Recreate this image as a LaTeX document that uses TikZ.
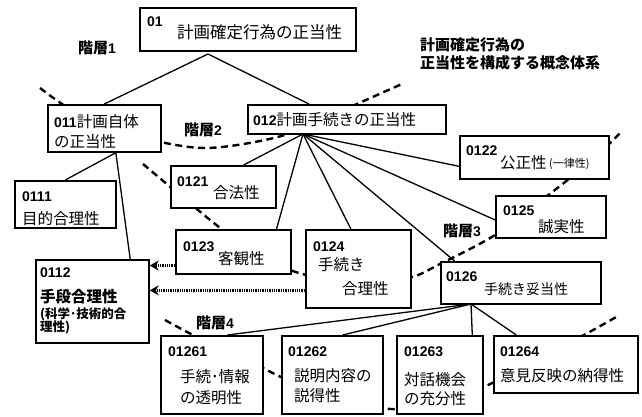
\documentclass[tikz,border=0pt]{standalone}
\usepackage{fontspec}
\setmainfont{Liberation Sans}
\newfontfamily\jp{Noto Sans CJK JP}
\usetikzlibrary{arrows.meta,calc}
\pgfdeclarelayer{bg}
\pgfsetlayers{bg,main}
\newcommand\bnum[1]{{\rmfamily\bfseries\fontsize{14}{16}\selectfont #1}}
\begin{document}
\begin{tikzpicture}[x=1pt,y=-1pt,
  box/.style={draw, line width=1.7pt, fill=white, inner sep=0pt, anchor=north west},
  txt/.style={anchor=west, inner sep=0pt, font=\jp\fontsize{15.5}{18}\selectfont},
  small/.style={anchor=west, inner sep=0pt, font=\jp\bfseries\fontsize{12.5}{14}\selectfont},
  lbl/.style={anchor=center, inner sep=0pt, font=\jp\bfseries\fontsize{15}{18}\selectfont},
  conn/.style={line width=1.3pt},
  hier/.style={line width=2.4pt, dash pattern=on 7pt off 4.5pt},
  dotarrow/.style={line width=2.4pt, dash pattern=on 1.3pt off 1pt, -{Stealth[length=9pt,width=10pt]}}]
\useasboundingbox (0,0) rectangle (642,417);

% boxes
\node[box, minimum width=216pt, minimum height=43pt] (b01) at (139,7) {};
\node[box, minimum width=113pt, minimum height=47pt] (b011) at (47,104) {};
\node[box, minimum width=198pt, minimum height=29pt] (b012) at (247,104) {};
\node[box, minimum width=101pt, minimum height=47pt] (b0111) at (14,180) {};
\node[box, minimum width=113pt, minimum height=83pt] (b0112) at (35,259) {};
\node[box, minimum width=105pt, minimum height=42pt] (b0121) at (170,165) {};
\node[box, minimum width=149pt, minimum height=43pt] (b0122) at (459,135) {};
\node[box, minimum width=115pt, minimum height=44pt] (b0123) at (175,229) {};
\node[box, minimum width=105pt, minimum height=78pt] (b0124) at (305,229) {};
\node[box, minimum width=110pt, minimum height=42pt] (b0125) at (495,195) {};
\node[box, minimum width=160pt, minimum height=42pt] (b0126) at (440,261) {};
\node[box, minimum width=102pt, minimum height=78pt] (b01261) at (160,335) {};
\node[box, minimum width=101pt, minimum height=78pt] (b01262) at (281,335) {};
\node[box, minimum width=86pt, minimum height=78pt] (b01263) at (396,335) {};
\node[box, minimum width=144pt, minimum height=57pt] (b01264) at (493,335) {};

% hubs
\coordinate (apex) at (208,54);
\coordinate (hub011) at ($(b011.south west)!0.6!(b011.south east)$);
\coordinate (hub012) at (303,134);
\coordinate (hub0126) at (471,304);

\begin{pgfonlayer}{bg}
  % hierarchy boundaries
  \draw[hier] plot[smooth, tension=0.55] coordinates {(40,88) (62,104) (100,128) (160,142) (205,148) (255,142) (300,130) (357,104) (402,84)};
  \draw[hier] plot[smooth, tension=0.55] coordinates {(143,164) (168,185) (198,210) (223,230) (260,255) (290,270) (320,277) (380,279) (412,277) (440,264) (495,235) (547,196) (580,170) (608,145) (622,131)};
  \draw[hier] plot[smooth, tension=0.55] coordinates {(165,320) (193,335) (230,352) (263,368) (281,377) (330,398) (391,409) (440,402) (488,385) (540,358) (584,335) (618,316)};
  % connectors
  \draw[conn] (apex) -- (b011.north);
  \draw[conn] (apex) -- ($(b012.north west)!0.31!(b012.north east)$);
  \draw[conn] (hub011) -- (b0111.north);
  \draw[conn] (hub011) -- ($(b0112.north west)!0.83!(b0112.north east)$);
  \draw[conn] (hub012) -- ($(b0121.north west)!0.69!(b0121.north east)$);
  \draw[conn] (hub012) -- ($(b0123.north west)!0.87!(b0123.north east)$);
  \draw[conn] (hub012) -- ($(b0124.north west)!0.43!(b0124.north east)$);
  \draw[conn] (hub012) -- ($(b0126.north west)!0.09!(b0126.north east)$);
  \draw[conn] (hub012) -- ($(b0125.north west)!0.57!(b0125.south west)$);
  \draw[conn] (hub012) -- ($(b0122.north west)!0.7!(b0122.south west)$);
  \draw[conn] (hub0126) -- ($(b01261.north west)!0.65!(b01261.north east)$);
  \draw[conn] (hub0126) -- ($(b01262.north west)!0.6!(b01262.north east)$);
  \draw[conn] (hub0126) -- ($(b01263.north west)!0.87!(b01263.north east)$);
  \draw[conn] (hub0126) -- ($(b01264.north west)!0.16!(b01264.north east)$);
\end{pgfonlayer}

% dotted arrows
\coordinate (a1) at ($(b0123.north west)!0.8!(b0123.south west)$);
\coordinate (a2) at ($(b0124.north west)!0.77!(b0124.south west)$);
\draw[dotarrow] (a1) -- (a1 -| b0112.east);
\draw[dotarrow] (a2) -- (a2 -| b0112.east);

% texts
\node[txt] (t01n) at (147,22) {\bnum{01}};
\node[txt, font=\jp\fontsize{16.5}{19}\selectfont] (t01) at (177,32) {計画確定行為の正当性};
\node[txt] (t011a) at (54,122) {\bnum{011}計画自体};
\node[txt] (t011b) at (54,142) {の正当性};
\node[txt] (t012) at (253,120) {\bnum{012}計画手続きの正当性};
\node[txt] (t0111n) at (22,197) {\bnum{0111}};
\node[txt] (t0111) at (22,219) {目的合理性};
\node[txt] (t0112n) at (40,273) {\bnum{0112}};
\node[txt, font=\jp\bfseries\fontsize{15.5}{18}\selectfont] (t0112) at (40,297) {手段合理性};
\node[small] (t0112b) at (40,314) {(科学･技術的合};
\node[small] (t0112c) at (40,327) {理性)};
\node[txt] (t0121n) at (177,182) {\bnum{0121}};
\node[txt] (t0121) at (213,193) {合法性};
\node[txt] (t0122n) at (466,151) {\bnum{0122}};
\node[txt] (t0122) at (500,163) {公正性};
\node[txt, font=\jp\fontsize{11}{13}\selectfont] (t0122b) at (549,164) {(一律性)};
\node[txt] (t0123n) at (183,247) {\bnum{0123}};
\node[txt] (t0123) at (218,259) {客観性};
\node[txt] (t0124n) at (313,247) {\bnum{0124}};
\node[txt] (t0124a) at (318,265) {手続き};
\node[txt] (t0124b) at (342,289) {合理性};
\node[txt] (t0125n) at (503,211) {\bnum{0125}};
\node[txt] (t0125) at (538,227) {誠実性};
\node[txt] (t0126n) at (446,277) {\bnum{0126}};
\node[txt, font=\jp\fontsize{14}{16}\selectfont] (t0126) at (484,289) {手続き妥当性};
\node[txt] (t01261n) at (168,352) {\bnum{01261}};
\node[txt] (t01261a) at (180,377) {手続･情報};
\node[txt] (t01261b) at (180,398) {の透明性};
\node[txt] (t01262n) at (288,352) {\bnum{01262}};
\node[txt] (t01262a) at (294,376) {説明内容の};
\node[txt] (t01262b) at (294,396) {説得性};
\node[txt] (t01263n) at (404,352) {\bnum{01263}};
\node[txt] (t01263a) at (404,380) {対話機会};
\node[txt] (t01263b) at (404,399) {の充分性};
\node[txt] (t01264n) at (500,352) {\bnum{01264}};
\node[txt] (t01264) at (500,376) {意見反映の納得性};

% level labels
\node[lbl] (L1) at (97,48) {階層\bnum{1}};
\node[lbl] (L2) at (203,130) {階層\bnum{2}};
\node[lbl] (L3) at (462,231) {階層\bnum{3}};
\node[lbl] (L4) at (215,323) {階層\bnum{4}};
\node[lbl, anchor=west] (c1) at (420,45) {計画確定行為の};
\node[lbl, anchor=west] (c2) at (420,63) {正当性を構成する概念体系};
\end{tikzpicture}
\end{document}
